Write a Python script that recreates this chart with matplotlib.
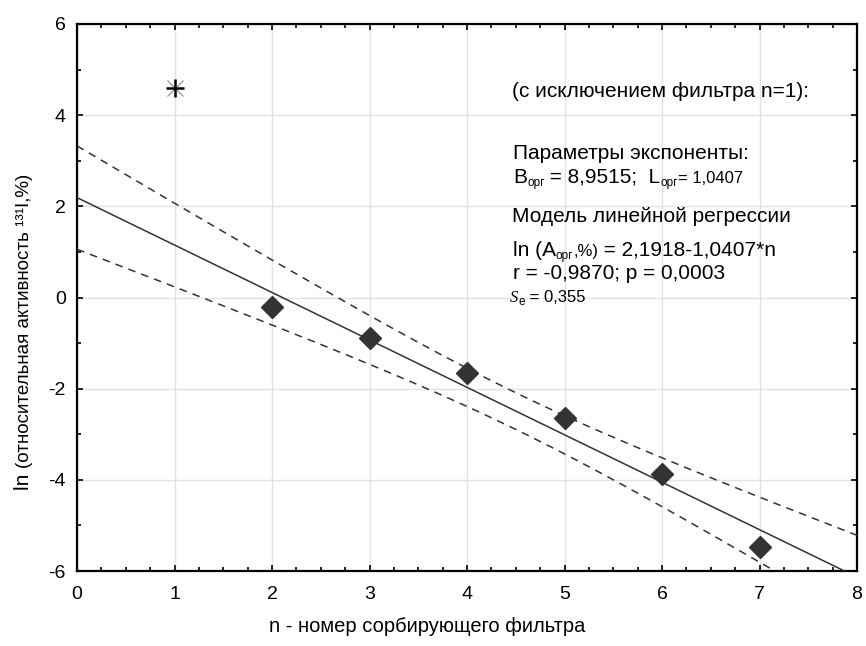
import numpy as np
import matplotlib.pyplot as plt
from matplotlib.ticker import MultipleLocator

plt.rcParams['font.family'] = ['Liberation Sans', 'DejaVu Sans']
plt.rcParams['axes.unicode_minus'] = False

# данные: номер фильтра и ln относительной активности
n_points = np.array([2, 3, 4, 5, 6, 7])
ln_activity = np.array([-0.20, -0.89, -1.66, -2.65, -3.88, -5.47])
n_excluded = [1]
ln_excluded = [4.60]

# параметры регрессии (из подписи)
intercept = 2.1918
slope = -1.0407
s_e = 0.355
t_crit = 2.776  # t(0.975, df=4)

x_ticks = [0, 1, 2, 3, 4, 5, 6, 7, 8]
y_ticks = [-6, -4, -2, 0, 2, 4, 6]

dark = '#333333'
W, H = 866, 646

fig = plt.figure(figsize=(W / 100, H / 100), dpi=100)
ax = fig.add_axes([77 / W, 1 - 571 / H, 780 / W, 547 / H])

# регрессия и доверительный интервал 95%
xx = np.linspace(0, 8, 200)
fit = intercept + slope * xx
n_mean = n_points.mean()
sxx = ((n_points - n_mean) ** 2).sum()
half = t_crit * s_e * np.sqrt(1 / len(n_points) + (xx - n_mean) ** 2 / sxx)

ax.plot(xx, fit, color=dark, lw=1.1, zorder=3)
ax.plot(xx, fit + half, color=dark, lw=1.1, dashes=(5, 4), zorder=3)
ax.plot(xx, fit - half, color=dark, lw=1.1, dashes=(5, 4), zorder=3)

ax.plot(n_points, ln_activity, 'D', color=dark, markersize=11, zorder=4,
        clip_on=False)
ax.plot(n_excluded, ln_excluded, 'x', color='#888888', markersize=12,
        mew=0.8, zorder=4)
ax.plot(n_excluded, ln_excluded, '+', color='black', markersize=13,
        mew=1.8, zorder=5)

ax.set_xlim(0, 8)
ax.set_ylim(-6, 6)
ax.set_xticks(x_ticks)
ax.set_yticks(y_ticks)
ax.xaxis.set_minor_locator(MultipleLocator(0.25))
ax.yaxis.set_minor_locator(MultipleLocator(1))
ax.tick_params(which='both', direction='in', top=True, right=True,
               width=1.2, color='black')
ax.tick_params(which='major', length=4, labelsize=14, pad=8)
ax.tick_params(axis='x', which='major', pad=11)
ax.tick_params(which='minor', length=3)
ax.grid(True, which='major', color='#e2e2e2', lw=1)
ax.set_axisbelow(True)
for sp in ax.spines.values():
    sp.set_linewidth(1.6)


def put_line(px, py, pieces):
    """ Строка из кусков разного размера, выровненных по базовой линии. """
    x, y = px / W, 1 - py / H
    first = pieces[0]
    prev = fig.text(x, y, first[0], fontsize=first[1], va='baseline',
                    ha='left', **first[3])
    for txt, size, dy, kw in pieces[1:]:
        prev = ax.annotate(txt, xy=(1, y),
                           xycoords=(prev, 'figure fraction'),
                           xytext=(0, dy), textcoords='offset points',
                           fontsize=size, va='baseline', ha='left',
                           annotation_clip=False, **kw)


big, small, sub = 15, 12, 8.5
no = {}
put_line(512, 97, [("(с исключением фильтра n=1):", big, 0, no)])
put_line(513, 159, [("Параметры экспоненты:", big, 0, no)])
put_line(513, 183, [("B", big, 0, no), ("орг", sub, -2.5, no),
                    (" = 8,9515;  L", big, 0, no), ("орг", sub, -2.5, no),
                    ("= 1,0407", small, 0, no)])
put_line(512, 222, [("Модель линейной регрессии", big, 0, no)])
put_line(513, 256, [("ln (A", big, 0, no), ("орг", sub, -2.5, no),
                    (",%)", small, 0, no),
                    (" = 2,1918-1,0407*n", big, 0, no)])
put_line(513, 279, [("r = -0,9870; p = 0,0003", big, 0, no)])
put_line(510, 302, [("S", small, 0, {'family': 'Liberation Serif',
                                     'style': 'italic'}),
                    ("e", sub, -2, no), (" = 0,355", small, 0, no)])

# подпись оси Y из двух частей
yl = fig.text(29 / W, 1 - 490 / H, "ln ", fontsize=15, rotation=90,
              rotation_mode='anchor', ha='left', va='baseline')
ax.annotate("(относительная активность ¹³¹I,%)", xy=(29 / W, 1),
            xycoords=('figure fraction', yl), fontsize=13.5, rotation=90,
            rotation_mode='anchor', ha='left', va='baseline',
            annotation_clip=False)

fig.text(427 / W, 1 - 627 / H, "n - номер сорбирующего фильтра",
         fontsize=14.5, ha='center', va='center')

fig.savefig('out.png', dpi=100)
